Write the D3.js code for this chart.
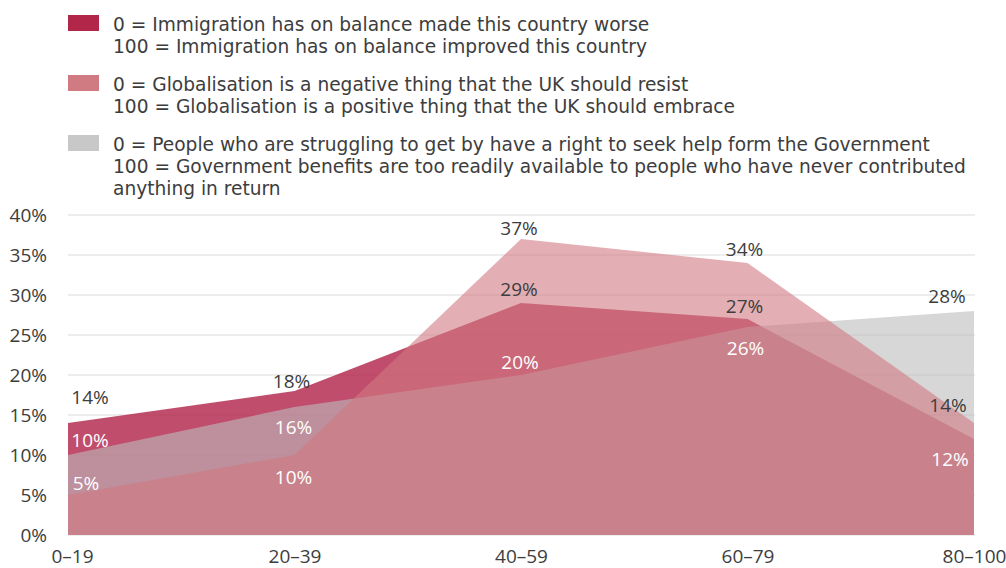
<!DOCTYPE html>
<html>
<head>
<meta charset="utf-8">
<script src="https://cdn.jsdelivr.net/npm/d3@7"></script>
<style>
  html, body { margin: 0; padding: 0; background: #fff; }
  svg { display: block; font-family: "Open Sans", "Noto Sans", sans-serif; }
</style>
</head>
<body>
<svg id="chart" width="1006" height="568"></svg>
<script>
// ---- data ----
const categories = ["0\u201319", "20\u201339", "40\u201359", "60\u201379", "80\u2013100"];
const immigration = [14, 18, 29, 27, 12];
const globalisation = [5, 10, 37, 34, 14];
const government = [10, 16, 20, 26, 28];
const yTicks = [0, 5, 10, 15, 20, 25, 30, 35, 40];
const legendLabels = [
  ["0 = Immigration has on balance made this country worse", "100 = Immigration has on balance improved this country"],
  ["0 = Globalisation is a negative thing that the UK should resist", "100 = Globalisation is a positive thing that the UK should embrace"],
  ["0 = People who are struggling to get by have a right to seek help form the Government", "100 = Government benefits are too readily available to people who have never contributed", "anything in return"]
];

// ---- layout / style ----
const svg = d3.select("#chart");
const x = d3.scalePoint().domain(categories).range([68, 974]);
const y = d3.scaleLinear().domain([0, 40]).range([535, 215]);
const textColor = "#3d3d3d";
const fontFamily = "'Open Sans', 'Noto Sans', sans-serif";
const legendFont = "'DejaVu Sans', sans-serif";

const seriesDefs = [
  { values: immigration, fill: "#b2264a", opacity: 0.82, swatch: "#b2264a" },
  { values: globalisation, fill: "#d07a82", opacity: 0.6, swatch: "#d07a82" },
  { values: government, fill: "#bdbdbd", opacity: 0.6, swatch: "#c8c8c8" }
];
// draw order: immigration, government, globalisation
const drawOrder = [0, 2, 1];

// grid
svg.append("g").selectAll("line").data(yTicks).join("line")
  .attr("x1", 68).attr("x2", 975)
  .attr("y1", d => y(d)).attr("y2", d => y(d))
  .attr("stroke", "#dcdcdc").attr("stroke-width", 1.2);

// y axis
const yAxis = d3.axisLeft(y).tickValues(yTicks).tickFormat(d => d + "%").tickSize(0).tickPadding(0);
const yg = svg.append("g").attr("transform", "translate(47,0)").call(yAxis);
yg.select(".domain").remove();
yg.selectAll("text").attr("font-size", 19).attr("fill", textColor)
  .attr("font-family", fontFamily);

// x axis
const xAxis = d3.axisBottom(x).tickSize(0).tickPadding(0);
const xg = svg.append("g").attr("transform", "translate(0,549)").call(xAxis);
xg.select(".domain").remove();
xg.selectAll("text").attr("font-size", 19).attr("fill", textColor)
  .attr("font-family", fontFamily)
  .attr("dx", (d, i) => i === 0 ? 4 : 0);

// areas
const area = d3.area()
  .x((d, i) => x(categories[i]))
  .y0(y(0))
  .y1(d => y(d));
svg.append("g").selectAll("path").data(drawOrder.map(k => seriesDefs[k])).join("path")
  .attr("d", d => area(d.values))
  .attr("fill", d => d.fill)
  .attr("fill-opacity", d => d.opacity);

// data labels: series index, category index, offsets, colour
const labelPlacement = [
  { s: 0, i: 0, dx: 22, dy: -26, c: "dark" },
  { s: 2, i: 0, dx: 22, dy: -15, c: "light" },
  { s: 1, i: 0, dx: 18, dy: -12, c: "light" },
  { s: 0, i: 1, dx: -3, dy: -10, c: "dark" },
  { s: 2, i: 1, dx: -1, dy: 20, c: "light" },
  { s: 1, i: 1, dx: -1, dy: 22, c: "light" },
  { s: 1, i: 2, dx: -2, dy: -11, c: "dark" },
  { s: 0, i: 2, dx: -2, dy: -14, c: "dark" },
  { s: 2, i: 2, dx: -1, dy: -13, c: "light" },
  { s: 1, i: 3, dx: -3, dy: -14, c: "dark" },
  { s: 0, i: 3, dx: -3, dy: -13, c: "dark" },
  { s: 2, i: 3, dx: -2, dy: 21, c: "light" },
  { s: 2, i: 4, dx: -27, dy: -15, c: "dark" },
  { s: 1, i: 4, dx: -26, dy: -18, c: "dark" },
  { s: 0, i: 4, dx: -24, dy: 20, c: "light" }
];
svg.append("g").selectAll("text").data(labelPlacement).join("text")
  .attr("x", d => x(categories[d.i]) + d.dx)
  .attr("y", d => y(seriesDefs[d.s].values[d.i]) + d.dy)
  .attr("text-anchor", "middle")
  .attr("dominant-baseline", "central")
  .attr("font-size", 19)
  .attr("fill", d => d.c === "dark" ? textColor : "#ffffff")
  .text(d => seriesDefs[d.s].values[d.i] + "%");

// legend
const legendTops = [15, 75, 135];
const lg = svg.append("g");
legendLabels.forEach((lines, k) => {
  lg.append("rect").attr("x", 68).attr("y", legendTops[k]).attr("width", 31).attr("height", 16)
    .attr("fill", seriesDefs[k].swatch);
  lg.append("g").selectAll("text").data(lines).join("text")
    .attr("x", 113)
    .attr("y", (d, j) => legendTops[k] + 16 + j * 22)
    .attr("font-family", legendFont)
    .attr("font-size", 18.6)
    .attr("fill", textColor)
    .text(d => d);
});
</script>
</body>
</html>
